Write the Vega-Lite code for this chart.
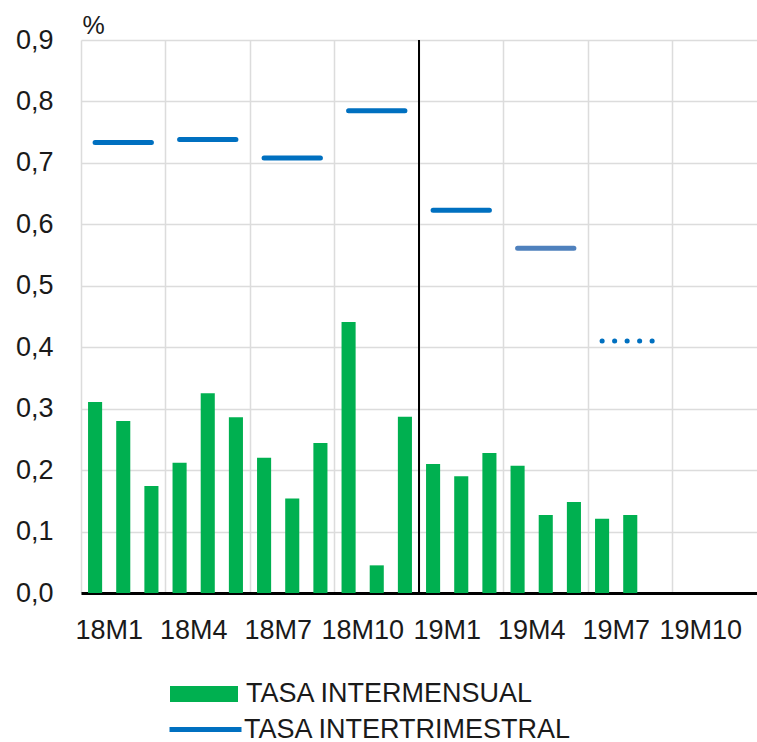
{
  "$schema": "https://vega.github.io/schema/vega-lite/v6.json",
  "width": 676,
  "height": 553,
  "autosize": {"type": "none"},
  "padding": {"left": 81, "top": 40, "right": 0, "bottom": 149},
  "background": "white",
  "config": {
    "font": "Liberation Sans",
    "view": {"stroke": null},
    "legend": {"labelFont": "Liberation Sans", "labelLimit": 0}
  },
  "datasets": {
    "mensual": [
      {"mes": "18M1", "valor": 0.311, "serie": "TASA INTERMENSUAL"},
      {"mes": "18M2", "valor": 0.280, "serie": "TASA INTERMENSUAL"},
      {"mes": "18M3", "valor": 0.174, "serie": "TASA INTERMENSUAL"},
      {"mes": "18M4", "valor": 0.212, "serie": "TASA INTERMENSUAL"},
      {"mes": "18M5", "valor": 0.325, "serie": "TASA INTERMENSUAL"},
      {"mes": "18M6", "valor": 0.286, "serie": "TASA INTERMENSUAL"},
      {"mes": "18M7", "valor": 0.220, "serie": "TASA INTERMENSUAL"},
      {"mes": "18M8", "valor": 0.154, "serie": "TASA INTERMENSUAL"},
      {"mes": "18M9", "valor": 0.244, "serie": "TASA INTERMENSUAL"},
      {"mes": "18M10", "valor": 0.441, "serie": "TASA INTERMENSUAL"},
      {"mes": "18M11", "valor": 0.045, "serie": "TASA INTERMENSUAL"},
      {"mes": "18M12", "valor": 0.287, "serie": "TASA INTERMENSUAL"},
      {"mes": "19M1", "valor": 0.210, "serie": "TASA INTERMENSUAL"},
      {"mes": "19M2", "valor": 0.190, "serie": "TASA INTERMENSUAL"},
      {"mes": "19M3", "valor": 0.228, "serie": "TASA INTERMENSUAL"},
      {"mes": "19M4", "valor": 0.207, "serie": "TASA INTERMENSUAL"},
      {"mes": "19M5", "valor": 0.127, "serie": "TASA INTERMENSUAL"},
      {"mes": "19M6", "valor": 0.148, "serie": "TASA INTERMENSUAL"},
      {"mes": "19M7", "valor": 0.121, "serie": "TASA INTERMENSUAL"},
      {"mes": "19M8", "valor": 0.127, "serie": "TASA INTERMENSUAL"}
    ],
    "trimestral": [
      {"inicio": "18M1", "fin": "18M3", "valor": 0.733, "estado": "observado", "indicador": "TASA INTERTRIMESTRAL"},
      {"inicio": "18M4", "fin": "18M6", "valor": 0.738, "estado": "observado", "indicador": "TASA INTERTRIMESTRAL"},
      {"inicio": "18M7", "fin": "18M9", "valor": 0.708, "estado": "observado", "indicador": "TASA INTERTRIMESTRAL"},
      {"inicio": "18M10", "fin": "18M12", "valor": 0.785, "estado": "observado", "indicador": "TASA INTERTRIMESTRAL"},
      {"inicio": "19M1", "fin": "19M3", "valor": 0.623, "estado": "observado", "indicador": "TASA INTERTRIMESTRAL"},
      {"inicio": "19M4", "fin": "19M6", "valor": 0.561, "estado": "estimado", "indicador": "TASA INTERTRIMESTRAL"},
      {"inicio": "19M7", "fin": "19M9", "valor": 0.410, "estado": "previsión", "indicador": "TASA INTERTRIMESTRAL"}
    ],
    "corte": [{"mes": "19M1"}]
  },
  "layer": [
    {
      "data": {"name": "mensual"},
      "mark": {"type": "bar", "width": {"band": 0.5}},
      "encoding": {
        "x": {
          "field": "mes",
          "type": "ordinal",
          "sort": null,
          "scale": {
            "domain": ["18M1","18M2","18M3","18M4","18M5","18M6","18M7","18M8","18M9","18M10","18M11","18M12","19M1","19M2","19M3","19M4","19M5","19M6","19M7","19M8","19M9","19M10","19M11","19M12"],
            "paddingInner": 0,
            "paddingOuter": 0
          },
          "axis": {
            "title": null,
            "values": ["18M1","18M4","18M7","18M10","19M1","19M4","19M7","19M10"],
            "bandPosition": 0,
            "labelOffset": 14.08,
            "labelAngle": 0,
            "labelFontSize": 27,
            "labelColor": "#1a1a1a",
            "labelPadding": 24,
            "labelOverlap": false,
            "labelBound": false,
            "ticks": false,
            "grid": true,
            "gridColor": "#dcdcdc",
            "gridWidth": 1.5,
            "domain": true,
            "domainColor": "#000000",
            "domainWidth": 3
          }
        },
        "y": {
          "field": "valor",
          "type": "quantitative",
          "scale": {"domain": [0, 0.9], "nice": false, "zero": true},
          "axis": {
            "title": "%",
            "titleAngle": 0,
            "titleAlign": "left",
            "titleBaseline": "alphabetic",
            "titleX": 1,
            "titleY": -7,
            "titleFontSize": 25,
            "titleFontWeight": "normal",
            "titleColor": "#1a1a1a",
            "values": [0, 0.1, 0.2, 0.3, 0.4, 0.5, 0.6, 0.7, 0.8, 0.9],
            "labelExpr": "replace(format(datum.value, '.1f'), '.', ',')",
            "labelFontSize": 27,
            "labelColor": "#1a1a1a",
            "labelPadding": 28,
            "ticks": false,
            "domain": false,
            "grid": true,
            "gridColor": "#dcdcdc",
            "gridWidth": 1.5
          }
        },
        "fill": {
          "field": "serie",
          "type": "nominal",
          "scale": {"domain": ["TASA INTERMENSUAL"], "range": ["#00b050"]},
          "legend": {
            "title": null,
            "orient": "none",
            "legendX": 89,
            "legendY": 620,
            "symbolType": "M-1,-0.235H1V0.235H-1Z",
            "symbolSize": 4624,
            "symbolStrokeWidth": 0,
            "labelFontSize": 27,
            "labelColor": "#1a1a1a",
            "labelOffset": 8,
            "labelLimit": 0,
            "padding": 0
          }
        }
      }
    },
    {
      "data": {"name": "trimestral"},
      "mark": {"type": "rule", "strokeWidth": 5, "strokeCap": "round"},
      "encoding": {
        "x": {"field": "inicio", "type": "ordinal", "sort": null},
        "x2": {"field": "fin"},
        "y": {"field": "valor", "type": "quantitative"},
        "stroke": {
          "condition": {"test": "datum.estado === 'estimado'", "value": "#4f81bd"},
          "field": "indicador",
          "type": "nominal",
          "scale": {"domain": ["TASA INTERTRIMESTRAL"], "range": ["#0070c0"]},
          "legend": {
            "title": null,
            "orient": "none",
            "legendX": 86,
            "legendY": 651,
            "symbolType": "stroke",
            "symbolSize": 5184,
            "symbolStrokeWidth": 5,
            "labelFontSize": 27,
            "labelColor": "#1a1a1a",
            "labelOffset": 0,
            "labelLimit": 0,
            "padding": 0
          }
        },
        "strokeDash": {
          "field": "estado",
          "type": "nominal",
          "scale": {"domain": ["observado", "estimado", "previsión"], "range": [[1, 0], [1, 0], [0.1, 12.4]]},
          "legend": null
        }
      }
    },
    {
      "data": {"name": "corte"},
      "mark": {"type": "rule", "color": "#000000", "strokeWidth": 2},
      "encoding": {
        "x": {"field": "mes", "type": "ordinal", "bandPosition": 0}
      }
    }
  ]
}
